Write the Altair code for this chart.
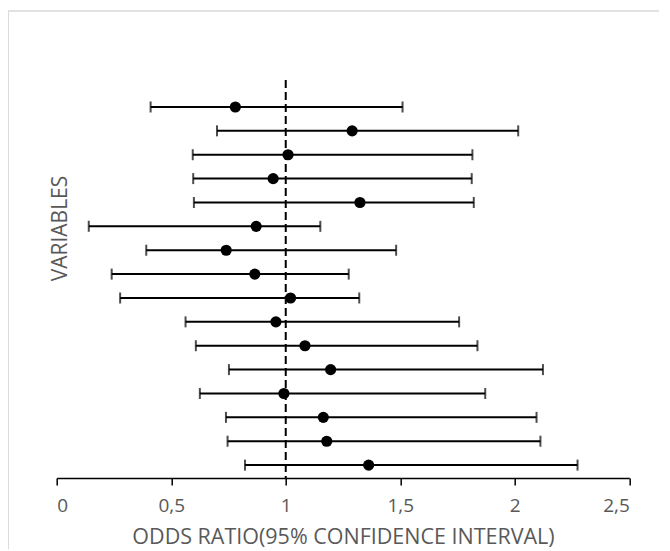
import altair as alt
import pandas as pd

# Data (16 variables, top to bottom)
variables = [1, 2, 3, 4, 5, 6, 7, 8, 9, 10, 11, 12, 13, 14, 15, 16]
odds_ratio = [0.78, 1.29, 1.01, 0.945, 1.324, 0.871, 0.74, 0.865, 1.021, 0.957,
              1.084, 1.196, 0.992, 1.164, 1.179, 1.362]
ci_low = [0.41, 0.70, 0.594, 0.596, 0.599, 0.14, 0.391, 0.24, 0.277, 0.5625,
          0.6075, 0.752, 0.625, 0.739, 0.746, 0.822]
ci_high = [1.51, 2.015, 1.815, 1.812, 1.821, 1.151, 1.482, 1.275, 1.321, 1.757,
           1.837, 2.123, 1.871, 2.095, 2.112, 2.274]
x_ticks = [0, 0.5, 1, 1.5, 2, 2.5]
reference_value = [1]

df = pd.DataFrame({"var": variables, "or": odds_ratio, "lo": ci_low, "hi": ci_high})
ref = pd.DataFrame({"x": reference_value})

FONT = "Open Sans"
GRAY = "#595959"
Y_DOMAIN = [-0.13, 16.54]

xscale = alt.Scale(domain=[0, 2.5], nice=False, zero=False)
yscale = alt.Scale(domain=Y_DOMAIN, reverse=True, nice=False, zero=False)

x_axis = alt.Axis(
    values=x_ticks,
    labelExpr="replace(format(datum.value, '~g'), '.', ',')",
    title="ODDS RATIO(95% CONFIDENCE INTERVAL)",
    grid=False,
    domainColor="black", domainWidth=1.5,
    tickColor="black", tickWidth=1.5, tickSize=7,
    labelColor=GRAY, labelFont=FONT, labelFontSize=19, labelPadding=12,
    titleColor=GRAY, titleFont=FONT, titleFontSize=21.5, titleFontWeight="normal",
    titlePadding=11,
)
y_axis = alt.Axis(
    title="VARIABLES", domain=False, ticks=False, labels=False, grid=False,
    titleColor=GRAY, titleFont=FONT, titleFontSize=21, titleFontWeight="normal",
    titleAngle=-90, titleX=3.5, titleY=148, titleAlign="center", titleBaseline="middle",
)

frame = alt.Chart(pd.DataFrame({"a": [0]})).mark_rect(
    fill=None, stroke="#d9d9d9", strokeWidth=1.5, clip=False
).encode(
    x=alt.value(-48.5), x2=alt.value(640), y=alt.value(-69), y2=alt.value(520)
)

base = alt.Chart(df)

bars = base.mark_rule(color="black", strokeWidth=2).encode(
    x=alt.X("lo:Q", scale=xscale, axis=x_axis),
    x2="hi:Q",
    y=alt.Y("var:Q", scale=yscale, axis=y_axis),
)
caps_lo = base.mark_tick(color="black", thickness=2, size=11, orient="vertical").encode(
    x=alt.X("lo:Q", scale=xscale), y=alt.Y("var:Q", scale=yscale)
)
caps_hi = base.mark_tick(color="black", thickness=2, size=11, orient="vertical").encode(
    x=alt.X("hi:Q", scale=xscale), y=alt.Y("var:Q", scale=yscale)
)
dashed = alt.Chart(ref).mark_rule(color="black", strokeWidth=2, strokeDash=[8, 4]).encode(
    x=alt.X("x:Q", scale=xscale),
    y=alt.value(0), y2=alt.value(398),
)
points = base.mark_circle(color="black", opacity=1, size=125).encode(
    x=alt.X("or:Q", scale=xscale), y=alt.Y("var:Q", scale=yscale)
)

chart = alt.layer(frame, dashed, bars, caps_lo, caps_hi, points).properties(
    width=572.6, height=398,
    background="white",
    autosize=alt.AutoSizeParams(type="none"),
    padding={"left": 48.7, "top": 72, "right": 30, "bottom": 71},
).configure_view(strokeWidth=0, stroke="transparent")

chart.save("out.html", embed_options={"renderer": "svg", "actions": False})
